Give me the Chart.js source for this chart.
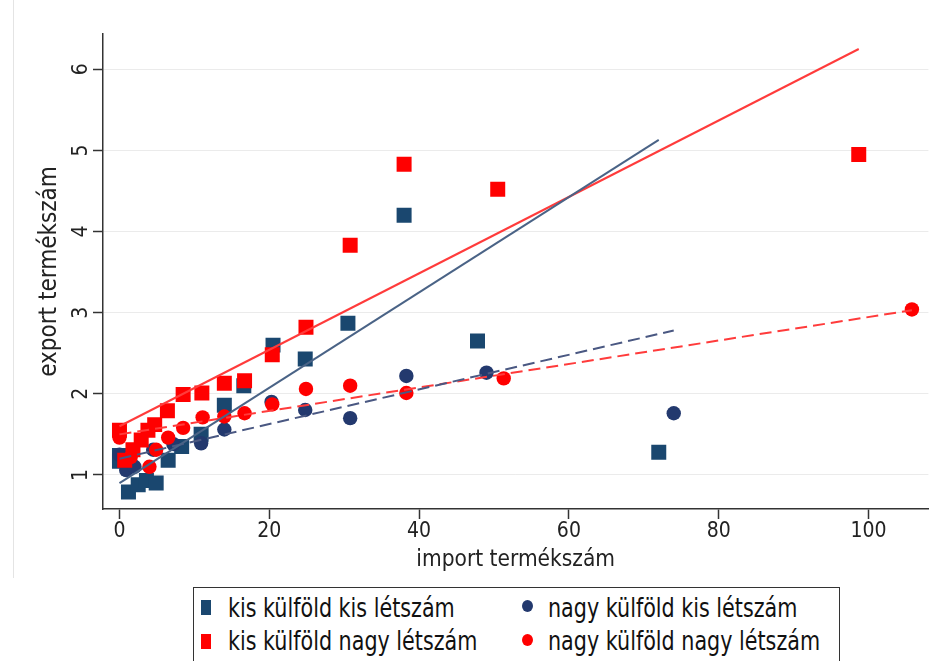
<!DOCTYPE html>
<html>
<head>
<meta charset="utf-8">
<script src="https://cdn.jsdelivr.net/npm/chart.js@4.4.0/dist/chart.umd.min.js"></script>
<style>
  html, body { margin: 0; padding: 0; background: #fff; }
  body { width: 939px; height: 661px; position: relative; overflow: hidden;
         font-family: 'DejaVu Sans Condensed', 'Liberation Sans', sans-serif; }
  #frame { position: absolute; left: 13px; top: 0; height: 578px; border-left: 1px solid #e4e4e4; }
  #chart { position: absolute; left: 0; top: 0; }
  #legend { position: absolute; left: 193px; top: 587px; width: 647px; height: 90px;
            border: 1.5px solid #333; box-sizing: border-box; background: #fff; }
  .item { position: absolute; font-size: 23px; line-height: 30px; color: #111; white-space: nowrap;
          transform: scaleY(1.15); transform-origin: left center; }
  .mk { position: absolute; }
  .sq { width: 10px; height: 15px; }
  .ci { width: 11px; height: 12px; border-radius: 50%; }
</style>
</head>
<body>
<div id="frame"></div>
<canvas id="chart" width="939" height="661"></canvas>
<div id="legend"></div>

<script>
// --- adatok (leolvasva az ábráról) ---
const seriesNames = [
  "kis külföld kis létszám",
  "nagy külföld kis létszám",
  "kis külföld nagy létszám",
  "nagy külföld nagy létszám"
];

// kis külföld kis létszám (négyzet, sötétkék)
const kisKisX = [0, 0, 1.2, 2.5, 3.6, 4.9, 6.5, 8.3, 10.9, 14, 16.6, 20.5, 24.8, 30.5, 38, 47.8, 72];
const kisKisY = [1.17, 1.24, 0.79, 0.88, 0.93, 0.9, 1.18, 1.35, 1.5, 1.86, 2.1, 2.6, 2.43, 2.87, 4.2, 2.65, 1.28];

// nagy külföld kis létszám (kör, sötétkék)
const nagyKisX = [0, 0.9, 2, 4.5, 7.2, 10.9, 14, 20.3, 24.8, 30.8, 38.3, 49, 74];
const nagyKisY = [1.25, 1.06, 1.1, 1.31, 1.38, 1.39, 1.56, 1.9, 1.8, 1.7, 2.22, 2.26, 1.76];

// kis külföld nagy létszám (négyzet, piros)
const kisNagyX = [0, 0.7, 1.8, 2.9, 3.8, 4.7, 6.4, 8.5, 11, 14, 16.7, 20.4, 24.9, 30.8, 38, 50.5, 98.7];
const kisNagyY = [1.55, 1.18, 1.31, 1.43, 1.55, 1.62, 1.79, 1.99, 2.01, 2.13, 2.16, 2.48, 2.82, 3.83, 4.83, 4.52, 4.95];

// nagy külföld nagy létszám (kör, piros)
const nagyNagyX = [0, 1.5, 4, 4.9, 6.5, 8.5, 11.1, 14, 16.7, 20.4, 24.9, 30.8, 38.3, 51.3, 105.8];
const nagyNagyY = [1.46, 1.22, 1.1, 1.31, 1.46, 1.58, 1.71, 1.72, 1.76, 1.87, 2.06, 2.1, 2.01, 2.19, 3.04];

// illesztett egyenesek végpontjai
const fitKisKisX = [0, 72],       fitKisKisY = [0.9, 5.13];
const fitNagyKisX = [0, 74],      fitNagyKisY = [1.2, 2.78];
const fitKisNagyX = [0, 98.7],    fitKisNagyY = [1.6, 6.25];
const fitNagyNagyX = [0, 105.8],  fitNagyNagyY = [1.5, 3.03];

const xTickValues = [0, 20, 40, 60, 80, 100];
const yTickValues = [1, 2, 3, 4, 5, 6];

const NAVY = "#1a476f";
const NAVY2 = "#23396e";
const RED = "#ff0000";
const FONT = "'DejaVu Sans Condensed', 'Liberation Sans', sans-serif";

function pts(xs, ys) {
  return xs.map((x, i) => ({ x: x, y: ys[i] }));
}

function scatterSet(label, xs, ys, color, style, radius, order) {
  return {
    type: "scatter",
    label: label,
    data: pts(xs, ys),
    pointStyle: style,
    pointRadius: radius,
    pointBackgroundColor: color,
    pointBorderColor: color,
    pointBorderWidth: 0,
    order: order
  };
}

function fitSet(xs, ys, color, dash) {
  return {
    type: "line",
    data: pts(xs, ys),
    borderColor: color,
    borderWidth: 2,
    borderDash: dash,
    pointRadius: 0,
    fill: false,
    order: 0
  };
}

const ctx = document.getElementById("chart").getContext("2d");
new Chart(ctx, {
  type: "scatter",
  data: {
    datasets: [
      scatterSet(seriesNames[0], kisKisX, kisKisY, NAVY, "rect", 10.6, 4),
      scatterSet(seriesNames[1], nagyKisX, nagyKisY, NAVY2, "circle", 7.2, 3),
      scatterSet(seriesNames[2], kisNagyX, kisNagyY, RED, "rect", 10.6, 2),
      scatterSet(seriesNames[3], nagyNagyX, nagyNagyY, RED, "circle", 7.2, 1),
      fitSet(fitKisKisX, fitKisKisY, "#4a6386", []),
      fitSet(fitNagyKisX, fitNagyKisY, "#4a5882", [12, 6]),
      fitSet(fitKisNagyX, fitKisNagyY, "#ff3b3b", []),
      fitSet(fitNagyNagyX, fitNagyNagyY, "#ff3b3b", [12, 6])
    ]
  },
  options: {
    responsive: false,
    animation: false,
    layout: { padding: { left: 0, right: 9, top: 34, bottom: 0 } },
    plugins: {
      legend: { display: false },
      tooltip: { enabled: false }
    },
    scales: {
      x: {
        type: "linear",
        min: -2.2,
        max: 108,
        afterBuildTicks: (s) => { s.ticks = xTickValues.map(v => ({ value: v })); },
        afterFit: (s) => { s.height = 152; },
        ticks: { color: "#222", font: { family: FONT, size: 21 }, padding: 0, maxRotation: 0 },
        grid: { drawOnChartArea: false, drawTicks: true, tickLength: 10, tickColor: "#333", tickWidth: 1.5 },
        border: { color: "#333", width: 1.5 },
        title: {
          display: true,
          text: "import termékszám",
          color: "#222",
          font: { family: FONT, size: 22.5 },
          padding: { top: 0, bottom: 87 }
        }
      },
      y: {
        type: "linear",
        min: 0.58,
        max: 6.435,
        afterBuildTicks: (s) => { s.ticks = yTickValues.map(v => ({ value: v })); },
        afterFit: (s) => { s.width = 103; },
        ticks: { color: "#222", font: { family: FONT, size: 21 }, padding: 5,
                 minRotation: 90, maxRotation: 90, crossAlign: "center" },
        grid: { color: "#ebebeb", lineWidth: 1, tickLength: 10, tickColor: "#333", tickWidth: 1.5 },
        border: { color: "#333", width: 1.5 },
        title: {
          display: true,
          text: "export termékszám",
          color: "#222",
          font: { family: FONT, size: 24 },
          padding: { top: 35, bottom: 0 }
        }
      }
    }
  }
});

// --- jelmagyarázat (2 oszlop, Stata-stílus) ---
const legendEl = document.getElementById("legend");
const legendColors = [NAVY, NAVY2, RED, RED];
const legendShapes = ["sq", "ci", "sq", "ci"];
seriesNames.forEach((name, i) => {
  const col = i % 2, row = Math.floor(i / 2);
  const mk = document.createElement("div");
  mk.className = "mk " + legendShapes[i];
  mk.style.background = legendColors[i];
  mk.style.left = (col === 0 ? 7 : 328) + "px";
  mk.style.top = (row === 0 ? 12 : 46) + "px";
  legendEl.appendChild(mk);
  const t = document.createElement("div");
  t.className = "item";
  t.textContent = name;
  t.style.left = (col === 0 ? 34 : 354) + "px";
  t.style.top = (row === 0 ? 5 : 38) + "px";
  legendEl.appendChild(t);
});
</script>
</body>
</html>
